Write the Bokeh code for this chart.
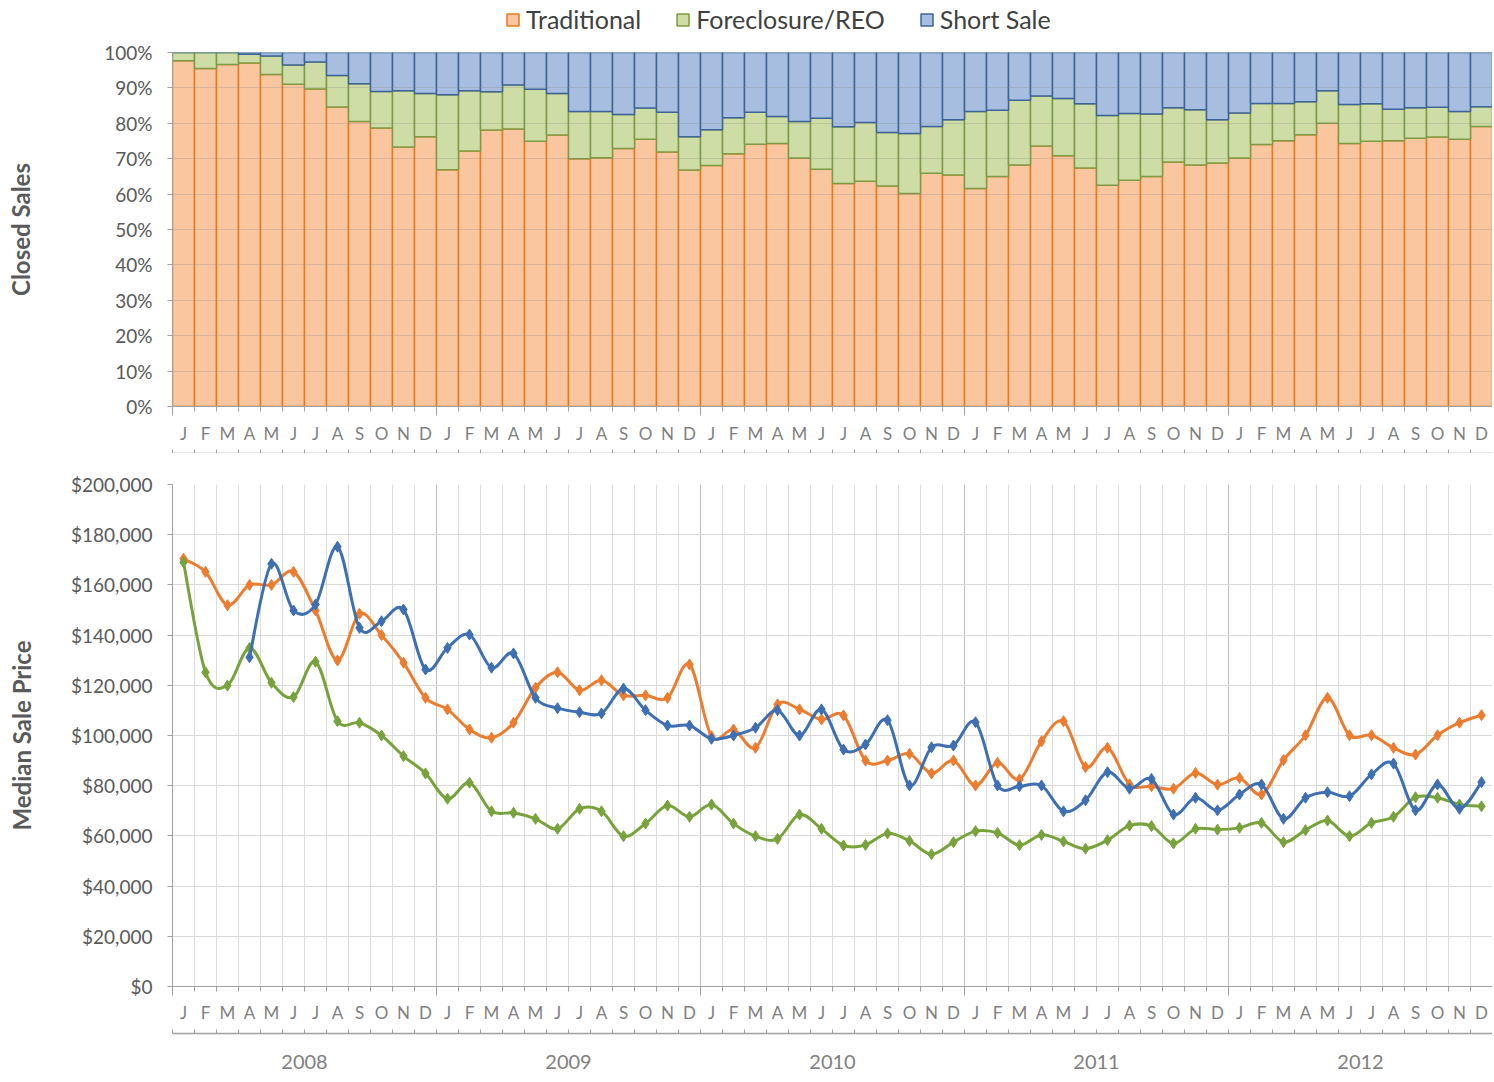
import numpy as np
from bokeh.plotting import figure
from bokeh.models import (Range1d, LinearAxis, FixedTicker, Legend, LegendItem,
                          ColumnDataSource, NumeralTickFormatter, Grid, CustomLabelingPolicy)
from bokeh.layouts import column
from bokeh.embed import file_html
from bokeh.resources import INLINE

# ---------------- data ----------------
month_letters = ["J", "F", "M", "A", "M", "J", "J", "A", "S", "O", "N", "D"]
years = ["2008", "2009", "2010", "2011", "2012"]
series_names = ["Traditional", "Foreclosure/REO", "Short Sale"]

# share of closed sales, percent
traditional_pct = [97.7, 95.5, 96.6, 97.0, 93.8, 91.0, 89.7, 84.6, 80.5, 78.7, 73.3, 76.2,
                   66.9, 72.2, 78.1, 78.4, 74.9, 76.7, 70.0, 70.3, 72.9, 75.5, 71.9, 66.8,
                   68.1, 71.4, 74.1, 74.3, 70.2, 67.0, 63.0, 63.6, 62.3, 60.2, 65.9, 65.4,
                   61.6, 65.0, 68.2, 73.6, 70.8, 67.4, 62.5, 63.9, 65.0, 69.1, 68.2, 68.8,
                   70.2, 74.0, 75.1, 76.8, 80.0, 74.3, 74.9, 75.1, 75.8, 76.1, 75.5, 79.1]
reo_pct = [2.3, 4.5, 3.4, 2.5, 5.2, 5.5, 7.6, 8.9, 10.7, 10.3, 15.9, 12.2,
           21.2, 17.0, 10.8, 12.4, 14.7, 11.7, 13.3, 13.0, 9.6, 8.8, 11.2, 9.4,
           10.1, 10.2, 9.0, 7.6, 10.3, 14.4, 16.0, 16.6, 15.1, 16.9, 13.2, 15.6,
           21.7, 18.7, 18.3, 14.1, 16.2, 18.1, 19.7, 18.9, 17.6, 15.3, 15.6, 12.2,
           12.7, 11.6, 10.5, 9.3, 9.2, 11.0, 10.6, 8.9, 8.6, 8.4, 7.8, 5.6]
short_pct = [0.0, 0.0, 0.0, 0.5, 1.0, 3.5, 2.7, 6.5, 8.8, 11.0, 10.8, 11.6,
             11.9, 10.8, 11.1, 9.2, 10.4, 11.6, 16.7, 16.7, 17.5, 15.7, 16.9, 23.8,
             21.8, 18.4, 16.9, 18.1, 19.5, 18.6, 21.0, 19.8, 22.6, 22.9, 20.9, 19.0,
             16.7, 16.3, 13.5, 12.3, 13.0, 14.5, 17.8, 17.2, 17.4, 15.6, 16.2, 19.0,
             17.1, 14.4, 14.4, 13.9, 10.8, 14.7, 14.5, 16.0, 15.6, 15.5, 16.7, 15.3]

# median sale price, dollars
traditional_price = [170400, 165200, 151900, 160000, 160000, 165200, 149800, 129900, 148500, 140000, 129000, 115000,
                     110400, 102400, 99100, 105100, 119000, 125200, 118000, 122000, 116000, 116000, 115000, 128300,
                     99700, 102400, 95100, 112400, 110400, 106400, 108000, 90000, 90000, 92700, 84900, 90000,
                     80100, 89100, 82500, 97700, 105700, 87400, 95100, 80500, 79800, 78800, 85100, 80400,
                     83100, 76500, 90200, 100100, 115000, 100100, 100100, 95100, 92400, 100100, 105100, 108100]
reo_price = [169000, 125200, 119900, 134900, 121000, 115300, 129400, 105700, 105100, 100000, 91800, 84900,
             74800, 81200, 69800, 69200, 66800, 62800, 70800, 69800, 59900, 64900, 72100, 67600,
             72500, 64900, 59900, 58800, 68500, 62800, 56200, 56400, 61000, 58000, 52700, 57500,
             61900, 61200, 56300, 60400, 57800, 54900, 58300, 64100, 63900, 57000, 62800, 62500,
             63200, 65200, 57500, 62300, 66100, 59900, 65200, 67600, 75400, 75200, 72500, 71800]
short_price = [None, None, None, 131200, 168400, 149800, 152200, 175200, 142900, 145500, 150200, 126300,
               134900, 140200, 127000, 132700, 115000, 110900, 109300, 108800, 118700, 110100, 104000, 104000,
               98700, 100000, 103100, 110100, 100000, 110400, 94400, 96400, 106100, 80100, 95300, 96000,
               105300, 80100, 79800, 80100, 69800, 74200, 85400, 78800, 82700, 68500, 75200, 70200,
               76500, 80500, 66800, 75200, 77400, 75800, 84500, 88800, 70200, 80500, 70800, 81400]

# ---------------- styling ----------------
FONT = "Lato"
BAR_FILL = ["#F9C6A0", "#CEDDA6", "#A7BEE0"]
BAR_LINE = ["#E8791F", "#7F9A45", "#3E6497"]
LINE_COL = ["#EC7C30", "#78A23C", "#3D6FB2"]
TXT = "#595959"
MTXT = "#7F7F7F"
AXC = "#A0A0A0"

n = len(traditional_pct)
centers = [i + 0.5 for i in range(n)]
bounds = list(range(n + 1))
year_bounds = list(range(0, n + 1, 12))
labels_month = {c: month_letters[i % 12] for i, c in enumerate(centers)}
year_centers = [12 * k + 6 for k in range(len(years))]

FRAME_W = 1320
LEFT = 172
HIDE_JS = "for (const i of indices) indices.unset(i)"


def spacer(h):
    return LinearAxis(ticker=FixedTicker(ticks=[n / 2], minor_ticks=[]), major_tick_out=h,
                      major_tick_in=0, minor_tick_out=0, minor_tick_in=0,
                      axis_line_color=None, major_tick_line_color=None,
                      minor_tick_line_color=None, major_label_standoff=0,
                      major_label_text_font_size="1px",
                      major_label_policy=CustomLabelingPolicy(code=HIDE_JS))


def month_axes(p, label_standoff, gap):
    a1 = LinearAxis(ticker=FixedTicker(ticks=year_bounds, minor_ticks=bounds),
                    minor_tick_out=5, minor_tick_in=0, major_tick_out=9, major_tick_in=0,
                    axis_line_color=AXC, minor_tick_line_color=AXC, major_tick_line_color=AXC,
                    major_label_standoff=0, major_label_text_font_size="1px",
                    major_label_policy=CustomLabelingPolicy(code=HIDE_JS))
    a2 = LinearAxis(ticker=FixedTicker(ticks=centers), major_label_overrides=labels_month,
                    major_tick_out=0, major_tick_in=0, major_label_standoff=label_standoff,
                    axis_line_color=None, major_tick_line_color=None,
                    major_label_text_font=FONT, major_label_text_font_size="17px",
                    major_label_text_color=MTXT)
    a3 = LinearAxis(ticker=FixedTicker(ticks=[], minor_ticks=bounds),
                    minor_tick_out=0, minor_tick_in=4, major_tick_out=0, major_tick_in=0,
                    axis_line_color=AXC, minor_tick_line_color=AXC, axis_line_width=1.5,
                    major_label_standoff=0)
    for a in (a1, a2, spacer(gap), a3):
        p.add_layout(a, "below")


src = ColumnDataSource(dict(x=centers, trad=traditional_pct, reo=reo_pct, short=short_pct))
stack_cols = ["trad", "reo", "short"]

# ---------------- legend strip ----------------
p0 = figure(frame_width=FRAME_W, frame_height=40, x_range=Range1d(0, n), y_range=Range1d(0, 100),
            output_backend="svg", toolbar_location=None, x_axis_type=None, y_axis_type=None,
            min_border_left=LEFT, min_border_right=0, min_border_top=0, min_border_bottom=0,
            outline_line_color=None)
legend_renderers = [p0.vbar(x="x", top=c, source=src, width=1.0, fill_color=f, line_color=l,
                            line_width=1.5, visible=False)
                    for c, f, l in zip(stack_cols, BAR_FILL, BAR_LINE)]
legend = Legend(items=[LegendItem(label=nm, renderers=[r]) for nm, r in zip(series_names, legend_renderers)],
                orientation="horizontal", location=(333, 6), label_text_font=FONT,
                label_text_font_size="25px", label_text_color="#404040",
                glyph_width=15, glyph_height=15, label_standoff=6, spacing=34,
                padding=0, margin=0, border_line_color=None, background_fill_alpha=0,
                inactive_fill_alpha=0, click_policy="none")
p0.add_layout(legend, "center")

# ---------------- top: share of closed sales ----------------
p1 = figure(frame_width=FRAME_W, frame_height=354, x_range=Range1d(0, n), y_range=Range1d(0, 100),
            output_backend="svg", toolbar_location=None, x_axis_type=None, y_axis_type=None,
            min_border_left=LEFT, min_border_right=0, min_border_top=12, min_border_bottom=0,
            outline_line_color=None)
p1.vbar_stack(stack_cols, x="x", width=1.0, source=src,
              fill_color=BAR_FILL, line_color=BAR_LINE, line_width=1.5)

yax1 = LinearAxis(ticker=FixedTicker(ticks=list(range(0, 101, 10))),
                  major_label_overrides={v: f"{v}%" for v in range(0, 101, 10)},
                  axis_label="Closed Sales", axis_label_standoff=66,
                  axis_label_text_font=FONT, axis_label_text_font_size="24px",
                  axis_label_text_font_style="bold", axis_label_text_color=TXT,
                  major_label_text_font=FONT, major_label_text_font_size="19px",
                  major_label_text_color=TXT, major_tick_out=5, major_tick_in=0,
                  major_label_standoff=15, minor_tick_line_color=None,
                  axis_line_color=AXC, major_tick_line_color=AXC)
p1.add_layout(yax1, "left")
g1 = Grid(dimension=1, ticker=FixedTicker(ticks=list(range(10, 101, 10))),
          grid_line_color="#7F7F7F", grid_line_alpha=0.25, level="annotation")
p1.add_layout(g1, "center")
month_axes(p1, 3, 3)

# ---------------- bottom: median sale price ----------------
p2 = figure(frame_width=FRAME_W, frame_height=502, x_range=Range1d(0, n), y_range=Range1d(0, 200000),
            output_backend="svg", toolbar_location=None, x_axis_type=None, y_axis_type=None,
            min_border_left=LEFT, min_border_right=0, min_border_top=31, min_border_bottom=0,
            outline_line_color=None)
p2.add_layout(Grid(dimension=0, ticker=FixedTicker(ticks=bounds), grid_line_color="#DCDCDC"), "center")
p2.add_layout(Grid(dimension=0, ticker=FixedTicker(ticks=year_bounds[1:-1]), grid_line_color="#BDBDBD"), "center")
p2.add_layout(Grid(dimension=1, ticker=FixedTicker(ticks=list(range(20000, 200001, 20000))),
                   grid_line_color="#D9D9D9"), "center")

yax2 = LinearAxis(ticker=FixedTicker(ticks=list(range(0, 200001, 20000))),
                  formatter=NumeralTickFormatter(format="$0,0"),
                  axis_label="Median Sale Price", axis_label_standoff=32,
                  axis_label_text_font=FONT, axis_label_text_font_size="24px",
                  axis_label_text_font_style="bold", axis_label_text_color=TXT,
                  major_label_text_font=FONT, major_label_text_font_size="19px",
                  major_label_text_color=TXT, major_tick_out=5, major_tick_in=0,
                  major_label_standoff=15, minor_tick_line_color=None,
                  axis_line_color=AXC, major_tick_line_color=AXC)
p2.add_layout(yax2, "left")


def smooth(xs, ys):
    P = np.column_stack([xs, ys]).astype(float)
    m = len(P)
    Pm = np.vstack([P[0], P, P[-1]])
    c0 = P[:-1] + (Pm[2:m + 1] - Pm[0:m - 1]) / 6.0
    c1 = P[1:] - (Pm[3:m + 2] - Pm[1:m]) / 6.0
    return dict(x0=P[:-1, 0], y0=P[:-1, 1], x1=P[1:, 0], y1=P[1:, 1],
                cx0=c0[:, 0], cy0=c0[:, 1], cx1=c1[:, 0], cy1=c1[:, 1])


for vals, col in zip([traditional_price, reo_price, short_price], LINE_COL):
    xs = [c for c, v in zip(centers, vals) if v is not None]
    ys = [v for v in vals if v is not None]
    p2.bezier(source=ColumnDataSource(smooth(xs, ys)), x0="x0", y0="y0", x1="x1", y1="y1",
              cx0="cx0", cy0="cy0", cx1="cx1", cy1="cy1", line_color=col, line_width=3)
    p2.scatter(xs, ys, marker="diamond", size=11, fill_color=col, line_color=col)

month_axes(p2, 2, 4)
a4 = LinearAxis(ticker=FixedTicker(ticks=year_centers),
                major_label_overrides={c: y for c, y in zip(year_centers, years)},
                major_tick_out=0, major_tick_in=0, major_label_standoff=21,
                axis_line_color=None, major_tick_line_color=None,
                major_label_text_font=FONT, major_label_text_font_size="20px",
                major_label_text_color=MTXT)
p2.add_layout(a4, "below")

layout = column(p0, p1, p2, spacing=0)
open("out.html", "w").write(file_html(layout, INLINE))
